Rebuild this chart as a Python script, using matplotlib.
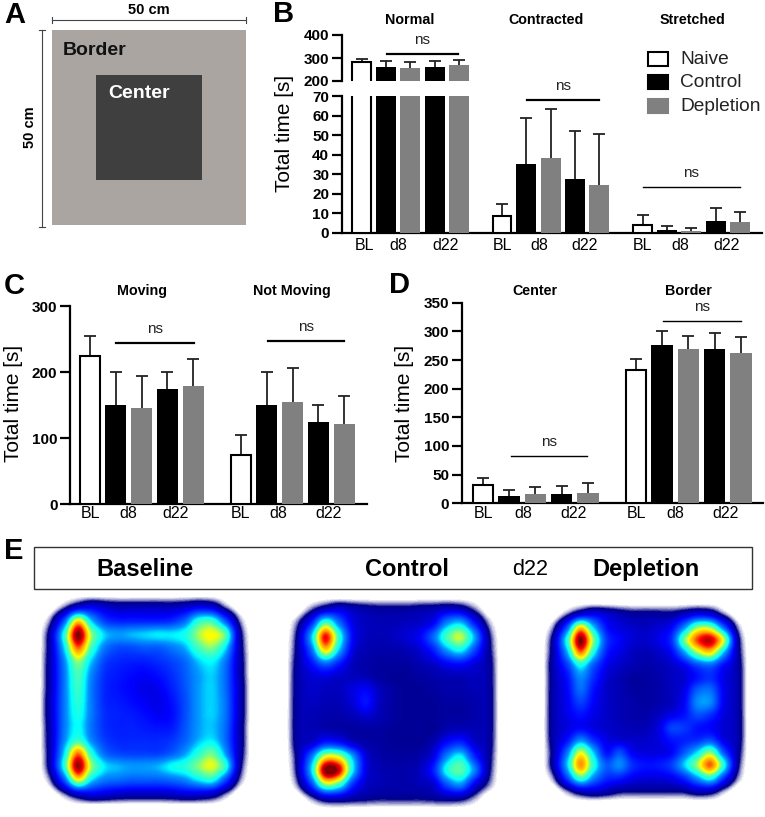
import numpy as np
import matplotlib
matplotlib.use("Agg")
import matplotlib.pyplot as plt
from matplotlib.colors import LinearSegmentedColormap
from matplotlib.patches import Rectangle

plt.rcParams['font.family'] = ['Liberation Sans', 'DejaVu Sans']

W, H = 765, 817
NAIVE, CONTROL, DEPLETION = "white", "black", "#808080"
bar_colors = [NAIVE, CONTROL, DEPLETION, CONTROL, DEPLETION]

# panel B
normal = [281, 262, 257, 262, 268]
normal_top = [294, 285, 283, 287, 291]
contracted = [8.5, 35, 38.5, 27.5, 24.5]
contracted_top = [14.5, 58.5, 63.5, 52, 50.5]
stretched = [4, 1.5, 1, 6, 5.5]
stretched_top = [9, 3.5, 2.5, 12.5, 10.5]

# panel C
moving = [225, 150, 145, 175, 179]
moving_top = [255, 200, 194, 200, 219]
not_moving = [74, 150, 155, 125, 121]
not_moving_top = [104, 200, 206, 150, 163]

# panel D
center = [32, 12, 16, 16, 18]
center_top = [45, 24, 28, 31, 35]
border = [233, 277, 269, 269, 263]
border_top = [252, 301, 292, 298, 290]

# panel E, occupancy (percent of the colour scale)
baseline_map = np.array([
    [0, 6, 16, 18, 14, 12, 12, 12, 12, 12, 14, 18, 16, 6, 0],
    [6, 30, 72, 42, 26, 22, 22, 22, 22, 24, 32, 50, 52, 30, 6],
    [12, 50, 100, 62, 42, 38, 40, 42, 44, 44, 48, 62, 68, 56, 12],
    [12, 44, 84, 54, 34, 28, 28, 30, 30, 34, 40, 54, 60, 44, 12],
    [12, 36, 62, 42, 27, 23, 22, 22, 24, 27, 32, 42, 46, 34, 12],
    [12, 34, 54, 36, 24, 21, 19, 18, 20, 24, 30, 38, 42, 32, 12],
    [12, 34, 52, 34, 23, 20, 18, 16, 17, 22, 29, 38, 42, 32, 13],
    [13, 34, 50, 34, 23, 21, 19, 17, 16, 20, 28, 38, 42, 33, 13],
    [13, 34, 48, 34, 24, 22, 21, 19, 17, 19, 28, 38, 42, 33, 13],
    [12, 34, 46, 33, 24, 22, 22, 21, 20, 21, 29, 38, 41, 32, 12],
    [12, 36, 52, 36, 26, 23, 23, 23, 23, 25, 31, 40, 44, 32, 12],
    [12, 44, 82, 50, 32, 27, 26, 26, 26, 30, 38, 50, 58, 38, 12],
    [12, 50, 98, 62, 44, 40, 38, 38, 40, 46, 50, 60, 66, 50, 11],
    [6, 30, 68, 44, 34, 32, 30, 30, 30, 32, 36, 44, 48, 28, 6],
    [0, 6, 16, 18, 16, 14, 13, 13, 13, 14, 16, 16, 14, 6, 0]]) / 100
control_map = np.array([
    [0, 6, 14, 16, 12, 10, 9, 9, 9, 10, 11, 14, 13, 6, 0],
    [6, 24, 56, 34, 16, 12, 11, 11, 12, 13, 18, 36, 42, 22, 5],
    [10, 42, 90, 52, 19, 12, 11, 12, 14, 18, 32, 54, 64, 40, 10],
    [10, 32, 72, 42, 16, 11, 10, 10, 11, 14, 22, 38, 46, 28, 10],
    [10, 20, 32, 22, 12, 10, 9, 9, 9, 11, 13, 18, 20, 15, 10],
    [10, 14, 15, 13, 12, 11, 9, 8, 8, 9, 10, 11, 11, 12, 10],
    [10, 13, 12, 12, 15, 18, 12, 9, 8, 8, 9, 10, 10, 11, 10],
    [10, 12, 11, 11, 14, 20, 12, 9, 8, 8, 8, 9, 9, 10, 10],
    [10, 11, 10, 10, 11, 13, 11, 9, 8, 8, 8, 9, 9, 10, 10],
    [10, 11, 11, 10, 9, 9, 9, 8, 8, 8, 8, 11, 12, 11, 10],
    [10, 14, 24, 22, 14, 10, 9, 8, 8, 8, 11, 20, 24, 14, 10],
    [10, 34, 68, 66, 40, 15, 10, 9, 9, 10, 16, 36, 46, 24, 10],
    [10, 44, 100, 94, 46, 16, 11, 10, 10, 12, 22, 48, 56, 36, 10],
    [6, 28, 64, 56, 26, 13, 11, 10, 10, 11, 14, 30, 38, 18, 6],
    [0, 6, 15, 15, 11, 9, 8, 8, 8, 8, 9, 11, 11, 5, 0]]) / 100
depletion_map = np.array([
    [0, 6, 16, 18, 14, 11, 9, 9, 9, 9, 13, 18, 16, 6, 0],
    [6, 30, 72, 42, 20, 15, 13, 12, 14, 18, 36, 60, 60, 32, 6],
    [12, 50, 100, 60, 26, 18, 14, 13, 16, 24, 58, 86, 94, 66, 13],
    [12, 40, 82, 48, 22, 16, 12, 11, 13, 18, 38, 62, 72, 42, 12],
    [12, 26, 48, 30, 17, 13, 11, 10, 11, 13, 18, 28, 32, 20, 11],
    [11, 20, 36, 24, 14, 11, 9, 9, 10, 12, 14, 20, 24, 16, 11],
    [11, 18, 32, 20, 13, 11, 9, 9, 10, 12, 16, 30, 32, 17, 11],
    [11, 17, 26, 18, 13, 11, 10, 9, 10, 12, 18, 36, 36, 17, 11],
    [11, 16, 20, 16, 13, 11, 10, 10, 12, 16, 20, 28, 24, 15, 11],
    [11, 15, 18, 15, 13, 12, 11, 11, 15, 26, 25, 20, 18, 14, 11],
    [11, 20, 36, 24, 16, 14, 13, 13, 15, 20, 22, 24, 28, 16, 11],
    [11, 34, 66, 42, 20, 28, 17, 15, 15, 18, 30, 44, 60, 30, 11],
    [12, 42, 80, 50, 30, 36, 24, 20, 21, 26, 42, 62, 84, 50, 11],
    [6, 28, 54, 36, 24, 22, 17, 15, 15, 17, 24, 38, 50, 26, 6],
    [0, 6, 14, 15, 12, 9, 8, 8, 8, 8, 9, 13, 13, 5, 0]]) / 100

heat = LinearSegmentedColormap.from_list("heat", [
    (0, "white"), (0.012, "white"), (0.03, "#c0c0e0"), (0.05, "#6060b0"), (0.068, "#00008c"),
    (0.18, "#0000ff"), (0.38, "#0099ff"), (0.45, "#00ffff"), (0.58, "#66ff99"), (0.68, "#ffff00"),
    (0.8, "#ff9900"), (0.9, "#ff0000"), (1, "#800000")])

fig = plt.figure(figsize=(W / 100, H / 100), dpi=100)


def px_axes(x0, y0, x1, y1, **kw):
    # axes box given in image pixels, y going down
    return fig.add_axes([x0 / W, 1 - y1 / H, (x1 - x0) / W, (y1 - y0) / H], **kw)


def style(ax, ticks):
    for s in ["top", "right"]:
        ax.spines[s].set_visible(False)
    for s in ["left", "bottom"]:
        ax.spines[s].set_linewidth(1.6)
    ax.set_yticks(ticks)
    ax.set_xticks([])
    ax.tick_params(axis="y", width=1.6, length=7, pad=2, labelsize=11)
    for t in ax.get_yticklabels():
        t.set_fontweight("bold")


def bars(ax, start, vals, tops, width=0.82):
    for i in range(5):
        naive = i == 0
        ax.bar(start + i, vals[i], width=width * (0.92 if naive else 1), color=bar_colors[i],
               edgecolor="black" if naive else bar_colors[i], linewidth=1.5 if naive else 0, zorder=3)
        ax.vlines(start + i, vals[i], tops[i], color="#222222", lw=1.3, zorder=2)
        ax.plot([start + i], [tops[i]], marker="_", ms=8, mew=1.3, color="#222222", zorder=2)


# overlay in pixel coordinates for the notes
top = fig.add_axes([0, 0, 1, 1], zorder=10)
top.set_xlim(0, W)
top.set_ylim(H, 0)
top.axis("off")


def note(x, y, s, size=10.3, weight="normal", **kw):
    top.text(x, y, s, fontsize=size, fontweight=weight, ha=kw.pop("ha", "center"), va="center", **kw)


def sig(x0, x1, y, lw=1.6):
    top.plot([x0, x1], [y, y], color="black", lw=lw)
    note((x0 + x1) / 2, y - 14, "ns", size=11, color="#222222")


# A
top.add_patch(Rectangle((52, 30), 194, 195, color="#aba5a2", lw=0))
top.add_patch(Rectangle((96, 75), 106, 105, color="#3f3f3f", lw=0))
top.plot([52, 246], [20, 20], color="#444444", lw=0.8)
top.plot([52, 52], [17, 23], color="#444444", lw=0.8)
top.plot([246, 246], [17, 23], color="#444444", lw=0.8)
top.plot([42, 42], [30, 227], color="#444444", lw=0.8)
top.plot([39, 45], [30, 30], color="#444444", lw=0.8)
top.plot([39, 45], [227, 227], color="#444444", lw=0.8)
note(149, 10, "50 cm", size=10.5, weight="bold")
note(30, 127, "50 cm", size=10.5, weight="bold", rotation=90)
note(63, 50, "Border", size=14, weight="bold", ha="left", color="#111111")
note(108, 93, "Center", size=14, weight="bold", ha="left", color="white")
note(15, 15, "A", size=21, weight="bold")

# B, broken axis
xlim_b = (-0.82, 16.47)
b_up = px_axes(341.7, 35, 762, 81)
b_up.set_xlim(xlim_b)
b_up.set_ylim(200, 400)
b_low = px_axes(341.7, 96, 762, 232.7)
b_low.set_xlim(xlim_b)
b_low.set_ylim(0, 70)
bars(b_up, 0, normal, normal_top)
bars(b_low, 0, normal, normal_top)
bars(b_low, 5.78, contracted, contracted_top)
bars(b_low, 11.56, stretched, stretched_top)
style(b_up, [200, 300, 400])
style(b_low, range(0, 71, 10))
b_up.spines["bottom"].set_visible(False)
sig(387, 458, 54)
sig(527, 599, 99.7)
sig(643, 740, 186.7, lw=1)
note(410, 20, "Normal", weight="bold")
note(546, 20, "Contracted", weight="bold")
note(692, 20, "Stretched", weight="bold")
for x, s in zip([365, 398, 446, 503, 539, 585, 643, 680, 727], ["BL", "d8", "d22"] * 3):
    note(x, 245, s, size=11.5)
note(285, 133, "Total time [s]", size=15, rotation=90)
note(284, 14, "B", size=21, weight="bold")
for y0, c, s in zip([52, 75, 99], [NAIVE, CONTROL, DEPLETION], ["Naive", "Control", "Depletion"]):
    top.add_patch(Rectangle((648, y0), 20, 13.5, facecolor=c, edgecolor="black" if c == "white" else c, lw=1.5))
    note(680, y0 + 7.5, s, size=13.8, ha="left", color="#222222")

# C
c = px_axes(70, 306, 367, 504)
c.set_xlim((70 - 90) / 25.8, (367 - 90) / 25.8)
c.set_ylim(0, 300)
bars(c, 0, moving, moving_top)
bars(c, 5.85, not_moving, not_moving_top)
style(c, [0, 100, 200, 300])
sig(116, 194, 343)
sig(268, 344, 341)
note(142, 291, "Moving", weight="bold")
note(292, 291, "Not Moving", weight="bold")
for x, s in zip([91, 128, 176, 241, 278, 329], ["BL", "d8", "d22"] * 2):
    note(x, 514, s, size=11.5)
note(14, 403, "Total time [s]", size=15, rotation=90)
note(14, 286, "C", size=21, weight="bold")

# D
d = px_axes(461.7, 302.7, 763, 503.3)
d.set_xlim((461.7 - 483) / 26.2, (763 - 483) / 26.2)
d.set_ylim(0, 350)
bars(d, 0, center, center_top)
bars(d, 5.84, border, border_top)
style(d, range(0, 351, 50))
sig(511, 587, 456, lw=1)
sig(663, 741, 320.5, lw=1)
note(535, 291, "Center", weight="bold")
note(688, 291, "Border", weight="bold")
for x, s in zip([484, 523, 574, 637, 675, 726], ["BL", "d8", "d22"] * 2):
    note(x, 514, s, size=11.5)
note(405, 403, "Total time [s]", size=15, rotation=90)
note(400, 285, "D", size=21, weight="bold")

# E
top.add_patch(Rectangle((34, 547), 718, 42, facecolor="white", edgecolor="#333333", lw=1))
note(145, 569.5, "Baseline", size=17, weight="bold")
note(407, 569.5, "Control", size=17, weight="bold")
note(530, 569.5, "d22", size=15.5)
note(646, 569.5, "Depletion", size=17, weight="bold")
note(14, 551, "E", size=21, weight="bold")

# left, top, cell width, cell height of each map in image pixels
for grid, (x0, y0, cw, ch) in zip([baseline_map, control_map, depletion_map],
                                  [(44.5, 602, 13.4, 13.2), (291.2, 604.7, 13.5, 13.3), (547.5, 608.7, 13, 12.5)]):
    ax = px_axes(x0 - cw, y0 - ch, x0 + 16 * cw, y0 + 16 * ch)
    ax.imshow(np.pad(grid, 1), cmap=heat, vmin=0, vmax=1, interpolation="catrom", aspect="auto")
    ax.axis("off")

fig.savefig("out.png", dpi=100)
